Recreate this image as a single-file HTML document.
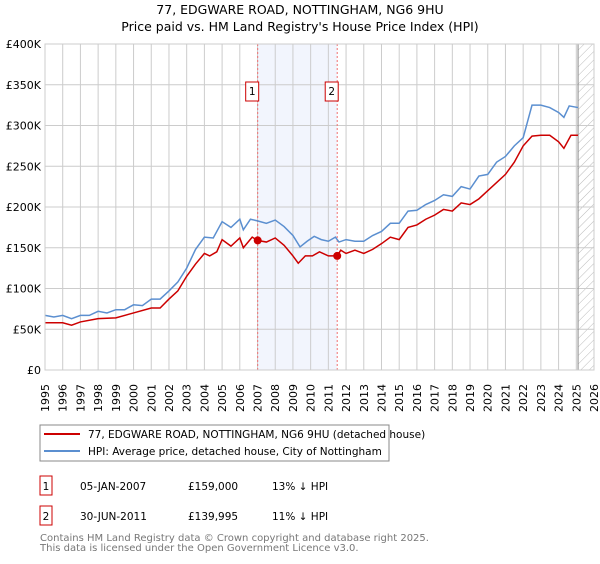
<!DOCTYPE html>
<html><head><meta charset="utf-8"><style>
body{margin:0;background:#fff;font-family:"DejaVu Sans","Liberation Sans",sans-serif;}
svg text{font-family:"DejaVu Sans","Liberation Sans",sans-serif;}
</style></head><body>
<svg id="chart" width="600" height="560" xmlns="http://www.w3.org/2000/svg">
<defs><pattern id="hatch" width="6" height="6" patternUnits="userSpaceOnUse" patternTransform="rotate(45)"><line x1="0" y1="0" x2="0" y2="6" stroke="#bbb" stroke-width="1"/></pattern></defs>
<text x="300" y="14" text-anchor="middle" font-size="12.5">77, EDGWARE ROAD, NOTTINGHAM, NG6 9HU</text>
<text x="300" y="31" text-anchor="middle" font-size="12.5">Price paid vs. HM Land Registry's House Price Index (HPI)</text>
<g id="plot"></g>
<rect x="40" y="425" width="349" height="36" fill="#fff" stroke="#888"/>
<line x1="44" y1="434" x2="80" y2="434" stroke="#cc0000" stroke-width="2"/>
<text x="88" y="438" font-size="10.5">77, EDGWARE ROAD, NOTTINGHAM, NG6 9HU (detached house)</text>
<line x1="44" y1="451" x2="80" y2="451" stroke="#5b8fd0" stroke-width="2"/>
<text x="88" y="455" font-size="10.5">HPI: Average price, detached house, City of Nottingham</text>
<g font-size="10.5">
<rect x="40" y="476" width="12" height="19" fill="none" stroke="#cc0000"/>
<text x="46" y="490" text-anchor="middle">1</text>
<text x="80" y="490">05-JAN-2007</text><text x="188" y="490">£159,000</text><text x="272" y="490">13% ↓ HPI</text>
<rect x="40" y="506" width="12" height="19" fill="none" stroke="#cc0000"/>
<text x="46" y="520" text-anchor="middle">2</text>
<text x="80" y="520">30-JUN-2011</text><text x="188" y="520">£139,995</text><text x="272" y="520">11% ↓ HPI</text>
</g>
<text x="40" y="541" font-size="10" fill="#777">Contains HM Land Registry data © Crown copyright and database right 2025.</text>
<text x="40" y="551" font-size="10" fill="#777">This data is licensed under the Open Government Licence v3.0.</text>
</svg>
<script>
const hpiYears=[1995,1995.5,1996,1996.5,1997,1997.5,1998,1998.5,1999,1999.5,2000,2000.5,2001,2001.5,2002,2002.5,2003,2003.5,2004,2004.5,2005,2005.5,2006,2006.2,2006.6,2007,2007.5,2008,2008.5,2009,2009.4,2009.8,2010.2,2010.6,2011,2011.4,2011.6,2012,2012.5,2013,2013.5,2014,2014.5,2015,2015.5,2016,2016.5,2017,2017.5,2018,2018.5,2019,2019.5,2020,2020.5,2021,2021.5,2022,2022.5,2023,2023.5,2024,2024.3,2024.6,2025.1];
const hpiValues=[67,65,67,63,67,67,72,70,74,74,80,79,87,87,97,108,125,148,163,162,182,175,185,172,185,183,180,184,176,165,151,158,164,160,158,163,157,160,158,158,165,170,180,180,195,196,203,208,215,213,225,222,238,240,255,262,275,285,325,325,322,316,310,324,322];
const priceYears=[1995,1996,1996.5,1997,1998,1999,2000,2001,2001.5,2002,2002.5,2003,2003.5,2004,2004.3,2004.7,2005,2005.5,2006,2006.2,2006.7,2007,2007.5,2008,2008.5,2009,2009.3,2009.7,2010.1,2010.5,2011,2011.5,2011.7,2012,2012.5,2013,2013.5,2014,2014.5,2015,2015.5,2016,2016.5,2017,2017.5,2018,2018.5,2019,2019.5,2020,2020.5,2021,2021.5,2022,2022.5,2023,2023.5,2024,2024.3,2024.7,2025.1];
const priceValues=[58,58,55,59,63,64,70,76,76,87,97,115,130,143,140,145,160,152,162,150,163,159,157,162,153,140,131,140,140,145,140,140,147,143,147,143,148,155,163,160,175,178,185,190,197,195,205,203,210,220,230,240,255,275,287,288,288,280,272,288,288];
const saleYears=[2007.01,2011.5];
const saleValues=[159,139.995];
const saleLabels=["1","2"];
const yTicks=[0,50,100,150,200,250,300,350,400];
const yTickLabels=["£0","£50K","£100K","£150K","£200K","£250K","£300K","£350K","£400K"];
const xTicks=[];for(let y=1995;y<=2026;y++)xTicks.push(y);

const X0=45,X1=594,Y0=370,Y1=44;
const xs=v=>X0+(v-1995)/(2026-1995)*(X1-X0);
const ys=v=>Y0-v/400*(Y0-Y1);
const NS="http://www.w3.org/2000/svg";
const g=document.getElementById('plot');
function mk(t,a,p){const e=document.createElementNS(NS,t);for(const k in a)e.setAttribute(k,a[k]);(p||g).appendChild(e);return e;}

const shade=mk('rect',{x:xs(saleYears[0]),y:Y1,width:xs(saleYears[1])-xs(saleYears[0]),height:Y0-Y1,fill:'#f2f5fd'});


const hatch=mk('rect',{x:xs(2025.1),y:Y1,width:X1-xs(2025.1),height:Y0-Y1,fill:'url(#hatch)'});



yTicks.forEach((t,i)=>{
 const l=mk('line',{x1:X0,x2:X1,y1:ys(t),y2:ys(t),stroke:'#ccc'});
 
 
 const tx=mk('text',{x:X0-4,y:ys(t)+4,'text-anchor':'end','font-size':'11'});
 tx.textContent=yTickLabels[i];
 
 
});
xTicks.forEach(t=>{
 const l=mk('line',{x1:xs(t),x2:xs(t),y1:Y1,y2:Y0,stroke:'#ccc'});
 
 
 const tx=mk('text',{x:0,y:0,'font-size':'11',transform:`translate(${xs(t)+4},${Y0+42}) rotate(-90)`});
 tx.textContent=t;
 
 
});
const endl=mk('line',{x1:xs(2025.1),x2:xs(2025.1),y1:Y1,y2:Y0,stroke:'#888'});



saleYears.forEach((s,i)=>{
 const l=mk('line',{x1:xs(s),x2:xs(s),y1:Y1,y2:Y0,stroke:'#f07070','stroke-dasharray':'2,2'});
 
 
 const b=mk('rect',{x:xs(s)-12,y:82,width:13,height:19,fill:'#fff',stroke:'#cc0000'});
 
 
 const t=mk('text',{x:xs(s)-5.5,y:95,'text-anchor':'middle','font-size':'10.5'});
 t.textContent=saleLabels[i];
 
 
});

const hp=mk('polyline',{points:hpiYears.map((y,i)=>xs(y)+','+ys(hpiValues[i])).join(' '),fill:'none',stroke:'#5b8fd0','stroke-width':'1.5'});


const pp=mk('polyline',{points:priceYears.map((y,i)=>xs(y)+','+ys(priceValues[i])).join(' '),fill:'none',stroke:'#cc0000','stroke-width':'1.5'});


saleYears.forEach((s,i)=>{
 const c=mk('circle',{cx:xs(s),cy:ys(saleValues[i]),r:4,fill:'#cc0000'});
 
 
});
const fr=mk('rect',{x:X0,y:Y1,width:X1-X0,height:Y0-Y1,fill:'none',stroke:'#ccc'});


</script>
</body></html>
